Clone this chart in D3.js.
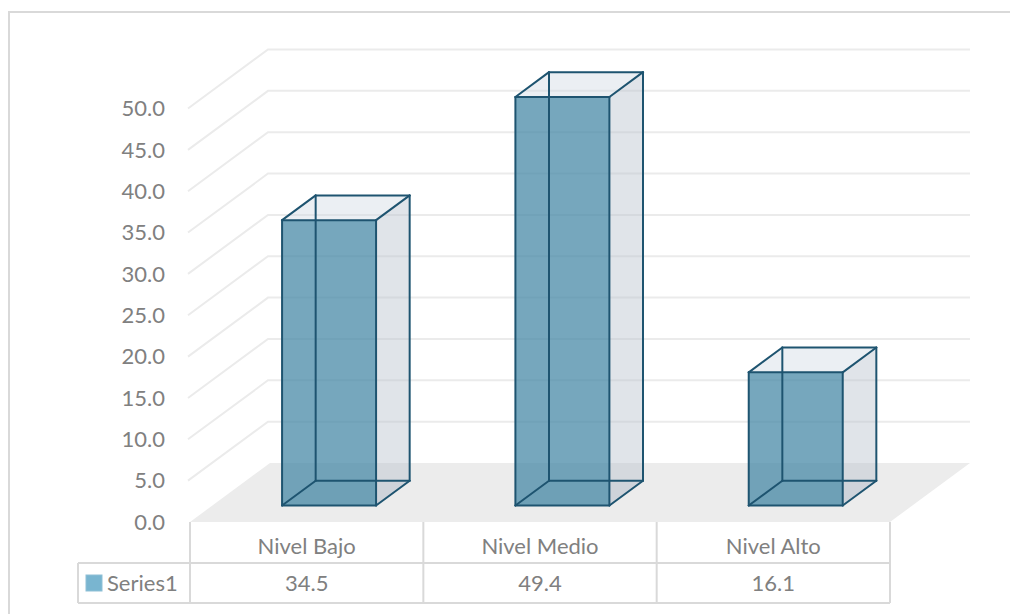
<!DOCTYPE html>
<html>
<head>
<meta charset="utf-8">
<script src="https://d3js.org/d3.v7.min.js"></script>
<style>
  body { margin: 0; background: #fff; }
  text { font-family: Lato, "Noto Sans", sans-serif; fill: #808080; }
</style>
</head>
<body>
<div id="chart"></div>
<script>
// data
var categories = ["Nivel Bajo", "Nivel Medio", "Nivel Alto"];
var values = [34.5, 49.4, 16.1];
var tickValues = [0, 5, 10, 15, 20, 25, 30, 35, 40, 45, 50];
var seriesName = "Series1";

var width = 1010, height = 614;

// floor / 3d geometry
var floorLeft = 190, floorRight = 890, floorFront = 522;
var depthX = 80, depthY = 59;       // full depth offset of the floor
var barFront = 0.28, barBack = 0.70; // depth fractions of the bars

var svg = d3.select("#chart").append("svg")
  .attr("width", width)
  .attr("height", height);

// frame (cut at right/bottom)
svg.append("path")
  .attr("d", "M9," + height + "V12H" + width)
  .attr("fill", "none")
  .attr("stroke", "#d9d9d9")
  .attr("stroke-width", 2);

var x = d3.scaleBand().domain(categories).range([floorLeft, floorRight]);
var y = d3.scaleLinear().domain([0, 50]).range([floorFront, 108.5]);

function pt(px, v, f) {
  return [px + f * depthX, y(v) - f * depthY];
}
function poly(pts) {
  return "M" + pts.map(function (p) { return p[0] + "," + p[1]; }).join("L") + "Z";
}

// floor
svg.append("path")
  .attr("d", poly([pt(floorLeft, 0, 0), pt(floorRight, 0, 0), pt(floorRight, 0, 1), pt(floorLeft, 0, 1)]))
  .attr("fill", "#ececec");

// gridlines (side wall + back wall)
var grid = svg.append("g");
tickValues.forEach(function (t) {
  if (t === 0) return;
  var a = pt(floorLeft - 2, t, 0), b = pt(floorLeft - 2, t, 1), c = [970, b[1]];
  grid.append("path")
    .attr("d", "M" + a + "L" + b + "L" + c)
    .attr("fill", "none")
    .attr("stroke", "#ebebeb")
    .attr("stroke-width", 2);
});

// y tick labels
svg.append("g").selectAll("text")
  .data(tickValues)
  .enter().append("text")
  .attr("x", 165)
  .attr("y", function (d) { return y(d); })
  .attr("dy", "0.35em")
  .attr("text-anchor", "end")
  .style("font-size", "22px")
  .text(function (d) { return d.toFixed(1); });

// bars
var barW = 94;
var edge = "#1e5470";
values.forEach(function (v, i) {
  var x0 = x(categories[i]) + (x.bandwidth() - barW) / 2;
  var x1 = x0 + barW;
  var g = svg.append("g");

  var fbl = pt(x0, 0, barFront), fbr = pt(x1, 0, barFront),
      ftl = pt(x0, v, barFront), ftr = pt(x1, v, barFront),
      bbl = pt(x0, 0, barBack), bbr = pt(x1, 0, barBack),
      btl = pt(x0, v, barBack), btr = pt(x1, v, barBack);

  // bottom
  g.append("path").attr("d", poly([fbl, fbr, bbr, bbl]))
    .attr("fill", "#9aa6b2").attr("fill-opacity", 0.15);
  // right side
  g.append("path").attr("d", poly([fbr, bbr, btr, ftr]))
    .attr("fill", "#bbc3ce").attr("fill-opacity", 0.45);
  // top
  g.append("path").attr("d", poly([ftl, ftr, btr, btl]))
    .attr("fill", "#ccd6e0").attr("fill-opacity", 0.4);
  // front
  g.append("path").attr("d", poly([fbl, fbr, ftr, ftl]))
    .attr("fill", "#488aa7").attr("fill-opacity", 0.75);

  // edges
  var edges = [
    [fbl, fbr], [fbr, ftr], [ftr, ftl], [ftl, fbl],
    [bbl, bbr], [bbr, btr], [btr, btl], [btl, bbl],
    [fbl, bbl], [fbr, bbr], [ftl, btl], [ftr, btr]
  ];
  edges.forEach(function (e) {
    g.append("line")
      .attr("x1", e[0][0]).attr("y1", e[0][1])
      .attr("x2", e[1][0]).attr("y2", e[1][1])
      .attr("stroke", edge)
      .attr("stroke-width", 2)
      .attr("stroke-linecap", "round");
  });
});

// data table
var rowTop = floorFront, rowMid = 563, rowBot = 603, legendLeft = 78;
var table = svg.append("g")
  .attr("stroke", "#d9d9d9")
  .attr("stroke-width", 2)
  .attr("fill", "none");

x.domain().concat(["end"]).forEach(function (c, i) {
  var xx = i < categories.length ? x(c) : floorRight;
  table.append("line")
    .attr("x1", xx).attr("x2", xx)
    .attr("y1", rowTop).attr("y2", rowBot);
});
table.append("line").attr("x1", legendLeft).attr("x2", floorRight).attr("y1", rowMid).attr("y2", rowMid);
table.append("line").attr("x1", legendLeft).attr("x2", floorRight).attr("y1", rowBot).attr("y2", rowBot);
table.append("line").attr("x1", legendLeft).attr("x2", legendLeft).attr("y1", rowMid).attr("y2", rowBot);

svg.append("g").selectAll("text")
  .data(categories)
  .enter().append("text")
  .attr("x", function (d) { return x(d) + x.bandwidth() / 2; })
  .attr("y", (rowTop + rowMid) / 2 + 4)
  .attr("dy", "0.35em")
  .attr("text-anchor", "middle")
  .style("font-size", "22px")
  .text(function (d) { return d; });

svg.append("g").selectAll("text")
  .data(values)
  .enter().append("text")
  .attr("x", function (d, i) { return x(categories[i]) + x.bandwidth() / 2; })
  .attr("y", (rowMid + rowBot) / 2)
  .attr("dy", "0.35em")
  .attr("text-anchor", "middle")
  .style("font-size", "22px")
  .text(function (d) { return d.toFixed(1); });

// legend key
svg.append("rect")
  .attr("x", 86).attr("y", 575)
  .attr("width", 16).attr("height", 16)
  .attr("fill", "#79b5d0")
  .attr("stroke", "#8fc0d6")
  .attr("stroke-width", 1);
svg.append("text")
  .attr("x", 107)
  .attr("y", (rowMid + rowBot) / 2)
  .attr("dy", "0.35em")
  .style("font-size", "22px")
  .text(seriesName);
</script>
</body>
</html>
